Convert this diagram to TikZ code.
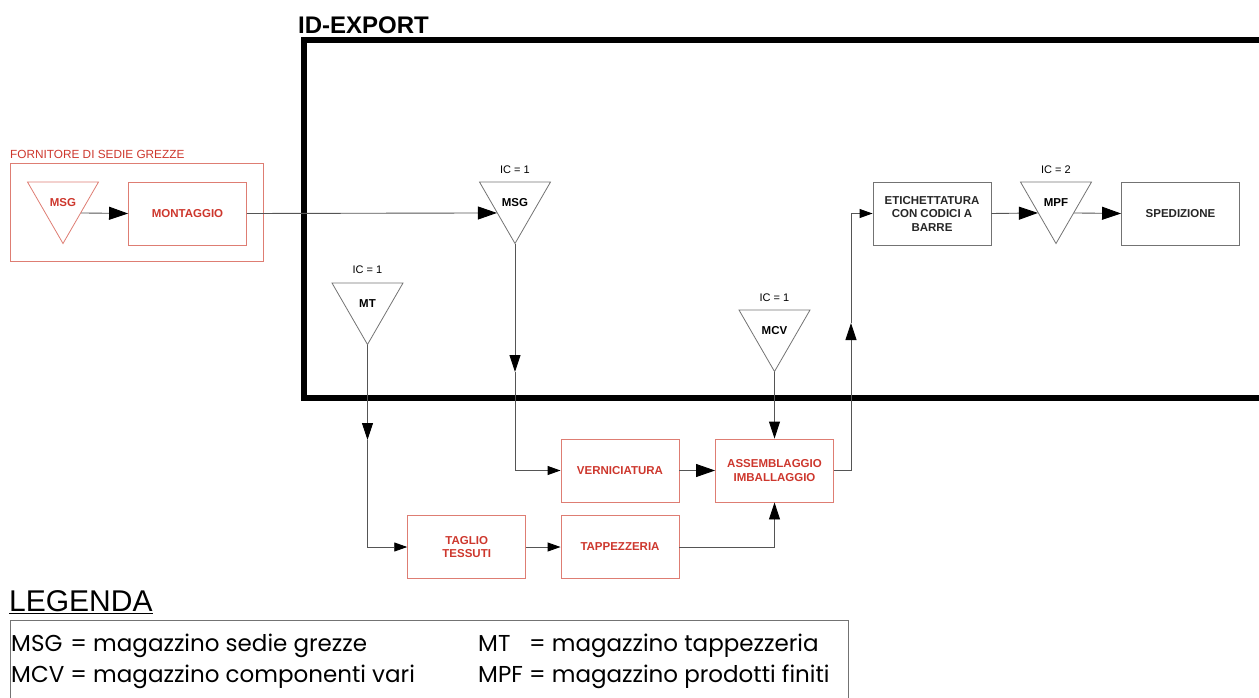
\documentclass[tikz,border=0pt]{standalone}
\usepackage{fontspec}
\setmainfont{Liberation Sans}
\newfontfamily\legfont{Poppins}
\usetikzlibrary{arrows.meta}
\usetikzlibrary{shapes.geometric}
\usetikzlibrary{positioning}
\definecolor{fornred}{RGB}{205,55,45}
\definecolor{fornline}{RGB}{222,125,115}
\definecolor{boxline}{RGB}{115,115,115}
\definecolor{flowline}{RGB}{85,85,85}

\begin{document}
\begin{tikzpicture}[x=1pt, y=-1pt, >={Triangle[length=17pt,width=11pt,color=black]}]
  \tikzset{
    every node/.style={font=\fontsize{11.5}{13.5}\selectfont\bfseries, align=center},
    redbox/.style={draw=fornline, line width=0.9pt, text=fornred, minimum width=118pt, minimum height=63pt, inner sep=0pt},
    blackbox/.style={draw=boxline, line width=0.9pt, text=black!85, minimum width=118pt, minimum height=63pt, inner sep=0pt},
    store/.style={draw=boxline, line width=0.8pt, regular polygon, regular polygon sides=3, regular polygon rotate=180,
      minimum size=82pt, inner sep=0pt, font=\fontsize{11.5}{13}\selectfont\bfseries},
    iclabel/.style={font=\fontsize{11}{13}\selectfont, inner sep=0pt},
    flow/.style={draw=flowline, line width=0.9pt},
    bigtip/.style={-{Triangle[length=19pt,width=13pt,color=black]}},
    smalltip/.style={-{Triangle[length=13pt,width=9pt,color=black]}}
  }
  \useasboundingbox (0,0) rectangle (1259,697);
  \clip (0,0) rectangle (1259,697);

  % ID-EXPORT frame
  \node[anchor=base west, inner sep=0pt, font=\fontsize{24}{28}\selectfont\bfseries] (idexport) at (298,33) {ID-EXPORT};
  \draw[line width=6pt] (1270,40) -| (304,398) -- (1270,398);

  % supplier
  \node[draw=fornline, line width=0.9pt, minimum width=253pt, minimum height=98pt, inner sep=0pt] (fornitore) at (137,212.5) {};
  \node[anchor=west, inner sep=0pt, text=fornred, font=\fontsize{11.8}{13}\selectfont] (fornlabel) at (10,154) {FORNITORE DI SEDIE GREZZE};
  \node[store, draw=fornline, text=fornred] (msgA) at (63,202.5) {MSG};
  \node[redbox] (montaggio) at (187.5,213.5) {MONTAGGIO};

  % stores
  \node[store] (msgB) at (515,202.5) {MSG};
  \node[store] (mt)   at (367.5,303.5) {MT};
  \node[store] (mcv)  at (774.5,330.5) {MCV};
  \node[store] (mpf)  at (1056,202.5) {MPF};
  \node[iclabel, above=8pt of msgB.side 2] (icmsg) {IC = 1};
  \node[iclabel, above=9pt of mt.side 2]   (icmt)  {IC = 1};
  \node[iclabel, above=8pt of mcv.side 2]  (icmcv) {IC = 1};
  \node[iclabel, above=8pt of mpf.side 2]  (icmpf) {IC = 2};

  % phases
  \node[redbox]   (vern)   at (620,470.5)   {VERNICIATURA};
  \node[redbox]   (assem)  at (774.5,470.5) {ASSEMBLAGGIO\\IMBALLAGGIO};
  \node[redbox]   (taglio) at (466.7,547)   {TAGLIO\\TESSUTI};
  \node[redbox]   (tapp)   at (620,547)     {TAPPEZZERIA};
  \node[blackbox] (etich)  at (932,213.5)   {ETICHETTATURA\\CON CODICI A\\BARRE};
  \node[blackbox] (sped)   at (1180.5,213.5) {SPEDIZIONE};

  \coordinate (msgmark) at (515,372);
  \coordinate (mtmark)  at (367.5,440);
  \coordinate (upmark)  at (851,323);

  % flows
  \draw[flow, bigtip] (msgA.side 1) -- (montaggio.west);
  \draw[flow, bigtip] (montaggio.east) -- (msgB.side 3);
  \draw[flow, ->] (msgB.corner 1) -- (msgmark);
  \draw[flow, smalltip] (msgmark) |- (vern.west);
  \draw[flow, ->] (mt.corner 1) -- (mtmark);
  \draw[flow, smalltip] (mtmark) |- (taglio.west);
  \draw[flow, smalltip] (taglio) -- (tapp);
  \draw[flow, bigtip] (vern) -- (assem);
  \draw[flow, ->] (tapp.east) -| (assem.south);
  \draw[flow, ->] (mcv.corner 1) -- (assem.north);
  \draw[flow, ->] (assem.east) -| (upmark);
  \draw[flow, smalltip] (upmark) |- (etich.west);
  \draw[flow, bigtip] (etich.east) -- (mpf.side 3);
  \draw[flow, bigtip] (mpf.side 1) -- (sped.west);

  % legend
  \node[anchor=base west, inner sep=0pt, font=\fontsize{30}{32}\selectfont] (legenda) at (9,611) {\underline{LEGENDA}};
  \node[draw=boxline, line width=0.9pt, anchor=north west, minimum width=838pt, minimum height=120pt, inner sep=0pt] (legbox) at (10,620) {};
  \node[anchor=west, inner sep=0pt, font=\legfont\fontsize{23}{31}\selectfont] (legleft) at (11,661)
    {\begin{tabular}{@{}l@{ = }l@{}} MSG & magazzino sedie grezze\\ MCV & magazzino componenti vari\end{tabular}};
  \node[anchor=west, inner sep=0pt, font=\legfont\fontsize{23}{31}\selectfont] (legright) at (478,661)
    {\begin{tabular}{@{}l@{ = }l@{}} MT & magazzino tappezzeria\\ MPF & magazzino prodotti finiti\end{tabular}};
\end{tikzpicture}
\end{document}
